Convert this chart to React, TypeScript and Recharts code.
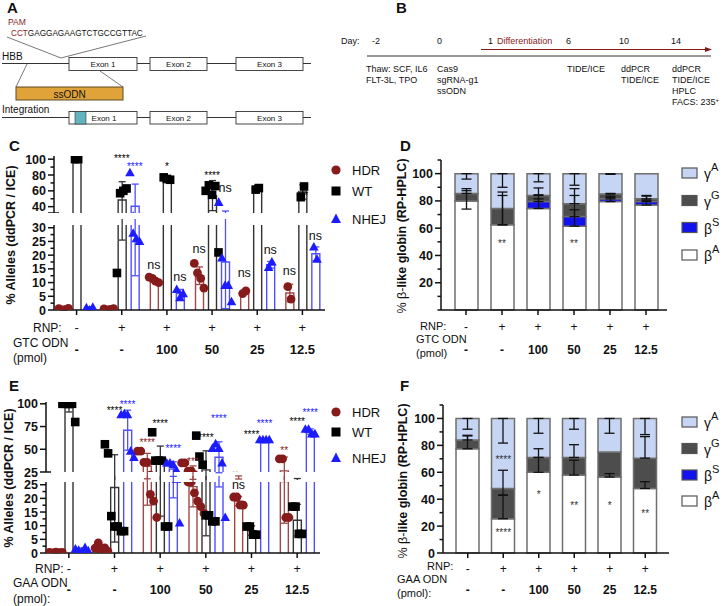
import React from "react";
import { Bar, ComposedChart, ErrorBar, Scatter, XAxis, YAxis } from "recharts";

const FONT = "'Liberation Sans', Arial, Helvetica, sans-serif";
const INK = "#111";
const RED = "#861b1b";
const BLUE = "#1c1cff";
const GAMMA_A = "#c6d5f3";
const GAMMA_G = "#4d4d4d";
const BETA_S = "#1212ee";
const BETA_A = "#ffffff";

const GROUPS = ["g1", "g2", "g3", "g4", "g5", "g6"];
const RNP = ["-", "+", "+", "+", "+", "+"];
const ODN_PMOL = ["-", "-", "100", "50", "25", "12.5"];

// C: GTC ODN, % alleles (ddPCR / ICE) – replicates, means, SDs
const C_HDR_PTS = [[0.5, 0, 0.1, 0.6], [0.4, 0, 0.2, 0.5], [12, 11.5, 10.5, 10], [17, 13.5, 11.5, 8], [6, 7], [8.5, 4]];
const C_HDR_MEAN = [0.3, 0.3, 11, 12.5, 6.5, 6.2];
const C_HDR_SD = [0.3, 0.2, 0.8, 3.2, 0.7, 3.2];
const C_WT_PTS = [[100, 100], [13.5, 57, 60, 63], [77, 75, 74], [60, 67, 55, 66, 21], [61.5, 63.5], [52, 65.5]];
const C_WT_MEAN = [100, 48.5, 75.5, 54, 62.5, 58.5];
const C_WT_SD = [0, 23, 1.5, 19, 1.4, 9];
const C_NHEJ_PTS = [[0.8, 0, 1], [83, 28, 26, 25], [7.5, 4.5, 6], [45.5, 19, 9, 9, 3], [15.5, 17.5], [23, 18.5]];
const C_NHEJ_MEAN = [0.6, 40.5, 6, 17.5, 16.5, 20.5];
const C_NHEJ_SD = [0.5, 28, 1.5, 17, 1.2, 2.5];
// g = group index, s = series (0 HDR, 1 WT, 2 NHEJ)
const C_NOTES_TOP = [
  { g: 1, s: 1, v: 104, t: "****" },
  { g: 1, s: 2, v: 93.5, t: "****" },
  { g: 2, s: 1, v: 93.5, t: "*" },
  { g: 3, s: 1, v: 82, t: "****" },
  { g: 3, s: 2, v: 64, t: "ns" },
  { g: 4, s: 1, v: 65.5, t: "**" },
  { g: 5, s: 1, v: 56.5, t: "***" },
];
const C_NOTES_LOW = [
  { g: 2, s: 0, v: 16.5, t: "ns" },
  { g: 2, s: 2, v: 12, t: "ns" },
  { g: 3, s: 0, v: 22.3, t: "ns" },
  { g: 4, s: 0, v: 13.5, t: "ns" },
  { g: 4, s: 2, v: 22, t: "ns" },
  { g: 5, s: 0, v: 14.2, t: "ns" },
  { g: 5, s: 2, v: 27, t: "ns" },
];

// E: GAA ODN
const E_HDR_PTS = [[0.2, 0, 0.3, 0.1, 0.2], [1.8, 3.7, 1.2, 1.9, 0.6], [48, 48, 35.5, 35.5, 21.5, 19, 13], [35, 35, 26, 26, 22, 19, 17, 14.5], [20.5, 20.5, 17.5, 17.5], [39.5, 39.5, 13, 13]];
const E_HDR_MEAN = [0.2, 1.8, 31.5, 24.3, 19, 26.2];
const E_HDR_SD = [0.1, 1.1, 14, 7.4, 1.7, 15.3];
const E_WT_PTS = [[100, 100, 100, 100, 80], [55.5, 45.5, 13.5, 9.7, 9.7, 8, 8], [68.7, 37.5, 37.5, 37.5, 9.7, 9.7], [65, 42, 33, 13.8, 13.8, 11.6, 11.6], [9.7, 9.7, 6.7, 6.7], [17, 17, 7, 7]];
const E_WT_MEAN = [96, 24, 33.5, 27.3, 8.2, 12];
const E_WT_SD = [5, 20, 20, 21, 1.7, 5.8];
const E_NHEJ_PTS = [[1.5, 1, 0.5, 2, 0.8], [88, 89, 88, 48, 41], [35, 35, 33, 27, 11], [51, 56, 51, 35, 13], [60.5, 60.5, 60.5, 60.5], [72, 72, 67, 67]];
const E_NHEJ_MEAN = [1.2, 71, 28.2, 41.2, 60.5, 69.5];
const E_NHEJ_SD = [0.6, 22, 8, 17, 0.3, 2.9];
const E_NOTES_TOP = [
  { g: 1, s: 1, v: 94.5, t: "****" },
  { g: 1, s: 2, v: 101, t: "****" },
  { g: 2, s: 0, v: 60, t: "****" },
  { g: 2, s: 1, v: 80.5, t: "****" },
  { g: 2, s: 2, v: 53, t: "****" },
  { g: 3, s: 0, v: 39, t: "***" },
  { g: 3, s: 1, v: 65, t: "****" },
  { g: 3, s: 2, v: 86, t: "****" },
  { g: 4, s: 1, v: 68, t: "****" },
  { g: 4, s: 2, v: 80.5, t: "****" },
  { g: 5, s: 0, v: 51, t: "**" },
  { g: 5, s: 1, v: 83, t: "****" },
  { g: 5, s: 2, v: 92.5, t: "****" },
];
const E_NOTES_LOW = [{ g: 4, s: 0, v: 25, t: "ns" }];

// D: GTC ODN, % beta-like globin (RP-HPLC), stacked
const D_BA = [80, 62.5, 74.5, 61.5, 79.5, 77];
const D_BS = [0, 0, 5, 7, 2, 2.5];
const D_GG = [5.5, 12, 4.5, 9.5, 3.5, 2];
const D_GA = [14.5, 25.5, 16, 22, 15, 18.5];
const D_BA_ERR = [[6, 7.5], [0, 21.5], [0, 10], [0, 22.5], [0, 4], [0, 6.5]];
const D_BS_ERR = [null, null, [0, 2], [0, 5], [0, 1], [0, 1]];
const D_GG_ERR = [[0, 3.5], [12, 12], [0, 5.5], [0, 11], [0, 0.5], [0, 2.5]];
const D_GA_ERR = [[4, 0], [10, 0], [6, 0], [8.5, 0], [0.5, 0], null];
const D_NOTES = [{ g: 1, v: 50, t: "**" }, { g: 3, v: 50, t: "**" }];

// F: GAA ODN
const F_BA = [77.5, 25.5, 60, 58, 56.5, 48];
const F_BS = [0, 0, 0, 0, 0, 0];
const F_GG = [6.5, 22.5, 11, 13, 18.5, 22.5];
const F_GA = [16, 52, 29, 29, 25, 29.5];
const F_BA_ERR = [[0, 9.5], [0, 17.5], [0, 11], [0, 11], [0, 2.5], [0, 5]];
const F_BS_ERR = [null, null, null, null, null, null];
const F_GG_ERR = [[0, 3.5], [5, 13.5], [0, 6.5], [0, 9.5], null, [0, 16]];
const F_GA_ERR = [[8, 0], [18.3, 0], [11, 0], [8, 0], [11, 0], [12, 0]];
const F_NOTES = [
  { g: 1, v: 71, t: "****" },
  { g: 1, v: 45.5, t: "*" },
  { g: 1, v: 17, t: "****" },
  { g: 2, v: 45, t: "*" },
  { g: 3, v: 37, t: "**" },
  { g: 4, v: 37, t: "*" },
  { g: 5, v: 31, t: "**" },
];

const SERIES = [
  { key: "hdr", color: RED, line: "#a04848", dx: -13, kind: "circle" },
  { key: "wt", color: "#000", line: "#333", dx: 0, kind: "square" },
  { key: "nhej", color: BLUE, line: "#5050ff", dx: 13, kind: "triangle" },
];

function alleleRows(hdr, hdrSd, wt, wtSd, nhej, nhejSd) {
  return GROUPS.map((g, i) => ({ g, hdr: hdr[i], hdrSd: hdrSd[i], wt: wt[i], wtSd: wtSd[i], nhej: nhej[i], nhejSd: nhejSd[i] }));
}

function pointRows(pts: number[][]) {
  return pts.flatMap((arr, gi) => arr.map((v, i) => ({ g: GROUPS[gi], v, i, n: arr.length })));
}

function noteRows(notes: any[]) {
  return notes.map((n) => ({ ...n, g: GROUPS[n.g], gi: n.g }));
}

// open-bottom bar outline, so the axis break stays clean
const openBar = (key: string, color: string, floor: number) => (p: any) => {
  const v = p.payload?.[key];
  if (v == null || v < floor || !isFinite(p.height)) return <g />;
  const top = Math.min(p.y, p.y + p.height);
  const bot = Math.max(p.y, p.y + p.height);
  const l = p.x;
  const r = p.x + p.width;
  return <path d={`M${l},${bot}V${top}H${r}V${bot}`} fill="none" stroke={color} strokeWidth={1.4} />;
};

const marker = (si: number) => (p: any) => {
  if (p.cx == null || p.cy == null || isNaN(p.cy)) return <g />;
  const s = SERIES[si];
  const { i, n } = p.payload;
  const x = p.cx + s.dx + (i - (n - 1) / 2) * 3.2;
  const y = p.cy;
  if (s.kind === "circle") return <circle cx={x} cy={y} r={4.4} fill={s.color} />;
  if (s.kind === "square") return <rect x={x - 4.3} y={y - 4.3} width={8.6} height={8.6} fill={s.color} />;
  return <polygon points={`${x},${y - 5} ${x + 4.8},${y + 3.6} ${x - 4.8},${y + 3.6}`} fill={s.color} />;
};

const noteShape = (p: any) => {
  if (p.cx == null || p.cy == null) return <g />;
  const { s, t } = p.payload;
  const star = t.includes("*");
  const fill = star ? SERIES[s].color : INK;
  return (
    <text x={p.cx + SERIES[s].dx} y={p.cy + (star ? 5.5 : 4)} textAnchor="middle" fontSize={star ? 10 : 12.5} fontFamily={FONT} fill={fill}>
      {t}
    </text>
  );
};

const starShape = (p: any) => (
  <text x={p.cx} y={p.cy + 5.5} textAnchor="middle" fontSize={10} fontFamily={FONT} fill="#333">
    {p.payload.t}
  </text>
);

const yTick = (labels: number[], size: number, brk?: number) => (p: any) => {
  const v = p.payload.value;
  const major = labels.includes(v);
  const isBrk = brk !== undefined && v === brk;
  return (
    <g>
      <line x1={p.x - (major || isBrk ? 6 : 3.5)} x2={isBrk ? p.x + 5 : p.x} y1={p.y} y2={p.y} stroke={INK} strokeWidth={1.5} />
      {major && (
        <text x={p.x - 8} y={p.y} dy="0.36em" textAnchor="end" fontSize={size} fontWeight={700} fontFamily={FONT} fill={INK}>
          {v}
        </text>
      )}
    </g>
  );
};

const xTick = (dy1: number, dy2: number, size: number) => (p: any) => {
  const i = GROUPS.indexOf(p.payload.value);
  return (
    <g>
      <text x={p.x} y={p.y + dy1} textAnchor="middle" fontSize={size} fontFamily={FONT} fill={INK}>{RNP[i]}</text>
      <text x={p.x} y={p.y + dy2} textAnchor="middle" fontSize={size} fontWeight={700} fontFamily={FONT} fill={INK}>{ODN_PMOL[i]}</text>
    </g>
  );
};

function AllelePart(props: any) {
  const { width, height, axisW, top, right, bottom = 0, domain, ticks, labels, brk, rows, pts, notes, showX, rowDy, yFont, xFont } = props;
  return (
    <ComposedChart width={width} height={height} data={rows} margin={{ top, right, bottom, left: 0 }} barGap={5}>
      <XAxis
        dataKey="g"
        type="category"
        allowDuplicatedCategory={false}
        hide={!showX}
        height={50}
        interval={0}
        axisLine={{ stroke: INK, strokeWidth: 1.5 }}
        tickLine={{ stroke: INK, strokeWidth: 1.5 }}
        tickSize={5}
        tickMargin={0}
        tick={xTick(rowDy[0], rowDy[1], xFont)}
      />
      <YAxis
        yAxisId="v"
        type="number"
        domain={domain}
        allowDataOverflow
        ticks={ticks}
        interval={0}
        width={axisW}
        tickSize={0}
        tickMargin={0}
        tickLine={false}
        axisLine={{ stroke: INK, strokeWidth: 1.5 }}
        tick={yTick(labels, yFont, brk)}
      />
      <YAxis yAxisId="ann" orientation="right" width={0} type="number" hide domain={domain} />
      {SERIES.map((s) => (
        <Bar key={s.key} yAxisId="v" dataKey={s.key} barSize={8} fill="none" stroke={s.line} shape={openBar(s.key, s.line, domain[0])} isAnimationActive={false}>
          <ErrorBar dataKey={`${s.key}Sd`} direction="y" width={3.5} stroke={s.line} strokeWidth={1.3} />
        </Bar>
      ))}
      {SERIES.map((s, si) => (
        <Scatter key={`p-${s.key}`} yAxisId="v" data={pointRows(pts[si])} dataKey="v" shape={marker(si)} isAnimationActive={false} />
      ))}
      <Scatter yAxisId="ann" data={noteRows(notes)} dataKey="v" shape={noteShape} isAnimationActive={false} />
    </ComposedChart>
  );
}

function stackRows(ba, bs, gg, ga, baE, bsE, ggE, gaE) {
  return GROUPS.map((g, i) => ({ g, ba: ba[i], bs: bs[i], gg: gg[i], ga: ga[i], baE: baE[i], bsE: bsE[i], ggE: ggE[i], gaE: gaE[i] }));
}

const STACK = [
  { key: "ba", fill: BETA_A },
  { key: "bs", fill: BETA_S },
  { key: "gg", fill: GAMMA_G },
  { key: "ga", fill: GAMMA_A },
];

function GlobinChart(props: any) {
  const { width, height, axisW, rows, notes, labels, padR, rowDy } = props;
  return (
    <ComposedChart width={width} height={height} data={rows} margin={{ top: 6, right: 3, bottom: 0, left: 0 }}>
      <XAxis
        dataKey="g"
        type="category"
        allowDuplicatedCategory={false}
        height={50}
        interval={0}
        padding={{ left: 7, right: padR }}
        axisLine={{ stroke: INK, strokeWidth: 1.5 }}
        tickLine={{ stroke: INK, strokeWidth: 1.5 }}
        tickSize={5}
        tickMargin={0}
        tick={xTick(rowDy[0], rowDy[1], 12)}
      />
      <YAxis
        type="number"
        domain={[0, 110]}
        ticks={[0, 10, 20, 30, 40, 50, 60, 70, 80, 90, 100, 110]}
        interval={0}
        width={axisW}
        tickSize={0}
        tickMargin={0}
        tickLine={false}
        axisLine={{ stroke: INK, strokeWidth: 1.5 }}
        tick={yTick(labels, 12.5)}
      />
      {STACK.map((s) => (
        <Bar key={s.key} dataKey={s.key} stackId="a" barSize={23} fill={s.fill} stroke="#6f6f6f" strokeWidth={1.5} isAnimationActive={false}>
          <ErrorBar dataKey={`${s.key}E`} direction="y" width={5} stroke={INK} strokeWidth={1.3} />
        </Bar>
      ))}
      <Scatter data={noteRows(notes)} dataKey="v" shape={starShape} isAnimationActive={false} />
    </ComposedChart>
  );
}

function Legend3({ y }: { y: number[] }) {
  return (
    <g fontFamily={FONT} fontSize={13} fill={INK}>
      <circle cx={336} cy={y[0]} r={4.6} fill={RED} />
      <text x={352} y={y[0] + 4.5}>HDR</text>
      <rect x={331.5} y={y[1] - 4.5} width={9} height={9} fill="#000" />
      <text x={352} y={y[1] + 4.5}>WT</text>
      <polygon points={`336,${y[2] - 5.5} 341,${y[2] + 4} 331,${y[2] + 4}`} fill={BLUE} />
      <text x={352} y={y[2] + 4.5}>NHEJ</text>
    </g>
  );
}

function LegendGlobin({ y }: { y: number[] }) {
  const items = [
    { g: "γ", s: "A", fill: GAMMA_A },
    { g: "γ", s: "G", fill: GAMMA_G },
    { g: "β", s: "S", fill: BETA_S },
    { g: "β", s: "A", fill: BETA_A },
  ];
  return (
    <g fontFamily={FONT} fill={INK}>
      {items.map((it, i) => (
        <g key={i}>
          <rect x={682} y={y[i] - 5} width={15} height={10} fill={it.fill} stroke="#555" strokeWidth={1.2} />
          <text x={704} y={y[i] + 6} fontSize={14}>
            {it.g}
            <tspan dy={-8} fontSize={11}>{it.s}</tspan>
          </text>
        </g>
      ))}
    </g>
  );
}

function Overlay() {
  const t9 = { fontSize: 9, fontFamily: FONT, fill: INK };
  const letter = { fontSize: 15, fontWeight: 700, fontFamily: FONT, fill: INK };
  const lbl = { fontSize: 12, fontFamily: FONT, fill: INK };
  const lbl11 = { fontSize: 11, fontFamily: FONT, fill: INK };
  const exon = { fontSize: 8, fontFamily: FONT, fill: INK, textAnchor: "middle" as const };
  return (
    <svg width={728} height={606} style={{ position: "absolute", left: 0, top: 0 }}>
      {/* panel letters */}
      <text x={7} y={13} {...letter}>A</text>
      <text x={396} y={13} {...letter}>B</text>
      <text x={9} y={151} {...letter}>C</text>
      <text x={400} y={151} {...letter}>D</text>
      <text x={9} y={391} {...letter}>E</text>
      <text x={400} y={391} {...letter}>F</text>

      {/* A: HBB locus */}
      <text x={8} y={25} fontSize={8.5} fontFamily={FONT} fill={RED}>PAM</text>
      <text x={11} y={36} fontSize={8.2} fontFamily={FONT} fill={INK}>
        <tspan fill={RED}>CCT</tspan>GAGGAGAAGTCTGCCGTTAC
      </text>
      <line x1={7} y1={37} x2={61} y2={58} stroke="#555" strokeWidth={0.8} />
      <line x1={146} y1={36} x2={61} y2={58} stroke="#555" strokeWidth={0.8} />
      <text x={2} y={60} fontSize={10} fontFamily={FONT} fill={INK}>HBB</text>
      <line x1={2} y1={63.5} x2={311} y2={63.5} stroke="#333" strokeWidth={1} />
      <rect x={69} y={57.5} width={68} height={13} fill="#fff" stroke="#333" strokeWidth={0.9} />
      <rect x={150} y={57.5} width={57} height={13} fill="#fff" stroke="#333" strokeWidth={0.9} />
      <rect x={236} y={57.5} width={67} height={13} fill="#fff" stroke="#333" strokeWidth={0.9} />
      <text x={103} y={67} {...exon}>Exon 1</text>
      <text x={178.5} y={67} {...exon}>Exon 2</text>
      <text x={269.5} y={67} {...exon}>Exon 3</text>
      <line x1={16} y1={87} x2={27} y2={64} stroke="#555" strokeWidth={0.8} />
      <line x1={123} y1={87} x2={100} y2={71} stroke="#555" strokeWidth={0.8} />
      <rect x={16} y={87} width={107} height={13} fill="#e0a33a" stroke="#5c4a26" strokeWidth={1} />
      <text x={69.5} y={97.5} fontSize={10} fontFamily={FONT} fill={INK} textAnchor="middle">ssODN</text>
      <text x={2} y={113} fontSize={10} fontFamily={FONT} fill={INK}>Integration</text>
      <line x1={2} y1={117.5} x2={311} y2={117.5} stroke="#333" strokeWidth={1} />
      <rect x={69} y={111.5} width={68} height={12.5} fill="#fff" stroke="#333" strokeWidth={0.9} />
      <rect x={75} y={111.5} width={11} height={12.5} fill="#62b4bf" stroke="#333" strokeWidth={0.6} />
      <rect x={150} y={111.5} width={57} height={12.5} fill="#fff" stroke="#333" strokeWidth={0.9} />
      <rect x={236} y={111.5} width={67} height={12.5} fill="#fff" stroke="#333" strokeWidth={0.9} />
      <text x={104} y={121} {...exon}>Exon 1</text>
      <text x={178.5} y={121} {...exon}>Exon 2</text>
      <text x={269.5} y={121} {...exon}>Exon 3</text>

      {/* B: timeline */}
      <text x={341} y={43.5} {...t9}>Day:</text>
      <text x={372} y={43.5} {...t9}>-2</text>
      <text x={437} y={43.5} {...t9}>0</text>
      <text x={488} y={43.5} {...t9}>1</text>
      <text x={497} y={43.5} {...t9} fill={RED}>Differentiation</text>
      <text x={566} y={43.5} {...t9}>6</text>
      <text x={619} y={43.5} {...t9}>10</text>
      <text x={671} y={43.5} {...t9}>14</text>
      <line x1={481} y1={49.5} x2={707} y2={49.5} stroke={RED} strokeWidth={1} />
      <polygon points="712,49.5 705,47 705,52" fill={RED} />
      <line x1={367} y1={56} x2={711} y2={56} stroke="#333" strokeWidth={1.2} />
      <text x={366} y={72} {...t9}>Thaw: SCF, IL6</text>
      <text x={366} y={83} {...t9}>FLT-3L, TPO</text>
      <text x={437} y={72} {...t9}>Cas9</text>
      <text x={437} y={83} {...t9}>sgRNA-g1</text>
      <text x={437} y={94} {...t9}>ssODN</text>
      <text x={567} y={72} {...t9}>TIDE/ICE</text>
      <text x={621} y={72} {...t9}>ddPCR</text>
      <text x={621} y={83} {...t9}>TIDE/ICE</text>
      <text x={672} y={72} {...t9}>ddPCR</text>
      <text x={672} y={83} {...t9}>TIDE/ICE</text>
      <text x={672} y={94} {...t9}>HPLC</text>
      <text x={672} y={105} {...t9}>FACS: 235<tspan dy={-3} fontSize={6}>+</tspan></text>

      {/* axis titles */}
      <text transform="rotate(-90 15 235)" x={15} y={235} textAnchor="middle" fontSize={12.5} fontWeight={700} fontFamily={FONT} fill={INK}>
        % Alleles (ddPCR / ICE)
      </text>
      <text transform="rotate(-90 13 478)" x={13} y={478} textAnchor="middle" fontSize={12.5} fontWeight={700} fontFamily={FONT} fill={INK}>
        % Alleles (ddPCR / ICE)
      </text>
      <text transform="rotate(-90 406 236)" x={406} y={236} textAnchor="middle" fontSize={12.5} fontFamily={FONT} fill={INK}>
        % β-<tspan fontWeight={700}>like globin (RP-HPLC)</tspan>
      </text>
      <text transform="rotate(-90 407 481)" x={407} y={481} textAnchor="middle" fontSize={12.5} fontFamily={FONT} fill={INK}>
        % β-<tspan fontWeight={700}>like globin (RP-HPLC)</tspan>
      </text>

      {/* x row headers */}
      <text x={33} y={332} {...lbl}>RNP:</text>
      <text x={13} y={347} {...lbl}>GTC ODN</text>
      <text x={13} y={362} {...lbl}>(pmol)</text>
      <text x={420} y={330} {...lbl11}>RNP:</text>
      <text x={416} y={343} {...lbl11}>GTC ODN</text>
      <text x={416} y={357} {...lbl11}>(pmol)</text>
      <text x={35} y={573} {...lbl}>RNP:</text>
      <text x={13} y={587} {...lbl}>GAA ODN</text>
      <text x={13} y={603} {...lbl}>(pmol):</text>
      <text x={427} y={570} {...lbl11}>RNP:</text>
      <text x={397} y={583} {...lbl11}>GAA ODN</text>
      <text x={397} y={597} {...lbl11}>(pmol):</text>

      <Legend3 y={[170, 191, 219]} />
      <Legend3 y={[412, 432, 458]} />
      <LegendGlobin y={[173, 200.5, 227.5, 255]} />
      <LegendGlobin y={[422, 448.5, 475, 501]} />
    </svg>
  );
}

function Place({ left, top, children }: any) {
  return <div style={{ position: "absolute", left, top }}>{children}</div>;
}

export default function App() {
  const cRows = alleleRows(C_HDR_MEAN, C_HDR_SD, C_WT_MEAN, C_WT_SD, C_NHEJ_MEAN, C_NHEJ_SD);
  const cPts = [C_HDR_PTS, C_WT_PTS, C_NHEJ_PTS];
  const eRows = alleleRows(E_HDR_MEAN, E_HDR_SD, E_WT_MEAN, E_WT_SD, E_NHEJ_MEAN, E_NHEJ_SD);
  const ePts = [E_HDR_PTS, E_WT_PTS, E_NHEJ_PTS];
  const dRows = stackRows(D_BA, D_BS, D_GG, D_GA, D_BA_ERR, D_BS_ERR, D_GG_ERR, D_GA_ERR);
  const fRows = stackRows(F_BA, F_BS, F_GG, F_GA, F_BA_ERR, F_BS_ERR, F_GG_ERR, F_GA_ERR);
  return (
    <div style={{ position: "absolute", left: 0, top: 0, width: 728, height: 606, background: "#fff", overflow: "hidden", fontFamily: FONT }}>
      <Overlay />
      <Place left={0} top={150}>
        <AllelePart width={330} height={63} axisW={54} top={6} right={5} domain={[32, 104]} ticks={[32, 40, 50, 60, 70, 80, 90, 100]} labels={[40, 60, 80, 100]} brk={32} rows={cRows} pts={cPts} notes={C_NOTES_TOP} showX={false} rowDy={[17, 39]} yFont={12.5} xFont={13} />
      </Place>
      <Place left={0} top={219}>
        <AllelePart width={330} height={141} axisW={54} top={6} right={5} domain={[0, 31]} ticks={[0, 2.5, 5, 7.5, 10, 12.5, 15, 17.5, 20, 22.5, 25, 27.5, 30]} labels={[0, 5, 10, 15, 20, 25, 30]} rows={cRows} pts={cPts} notes={C_NOTES_LOW} showX rowDy={[17, 39]} yFont={12.5} xFont={13} />
      </Place>
      <Place left={0} top={476}>
        <AllelePart width={325} height={127} axisW={46} top={6} right={5} domain={[0, 26]} ticks={[0, 2.5, 5, 7.5, 10, 12.5, 15, 17.5, 20, 22.5, 25]} labels={[0, 5, 10, 15, 20, 25]} rows={eRows} pts={ePts} notes={E_NOTES_LOW} showX rowDy={[15, 36]} yFont={12.5} xFont={12.5} />
      </Place>
      <Place left={0} top={396}>
        <AllelePart width={325} height={84} axisW={46} top={6} right={5} bottom={8} domain={[25, 102]} ticks={[25, 50, 75, 100]} labels={[25, 50, 75, 100]} brk={25} rows={eRows} pts={ePts} notes={E_NOTES_TOP} showX={false} rowDy={[15, 36]} yFont={12.5} xFont={12.5} />
      </Place>
      <Place left={390} top={154}>
        <GlobinChart width={280} height={206} axisW={51} rows={dRows} notes={D_NOTES} labels={[20, 40, 60, 80, 100]} padR={3} rowDy={[16, 39]} />
      </Place>
      <Place left={392} top={399}>
        <GlobinChart width={280} height={204} axisW={51} rows={fRows} notes={F_NOTES} labels={[0, 20, 40, 60, 80, 100]} padR={6} rowDy={[14.5, 36]} />
      </Place>
    </div>
  );
}
